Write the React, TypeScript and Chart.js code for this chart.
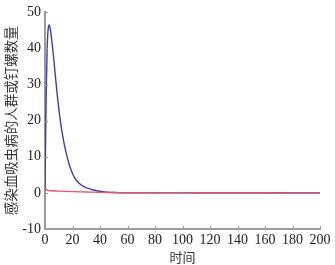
import React, { useEffect, useRef } from "react";
import { Chart, registerables } from "chart.js";
Chart.register(...registerables);

const blueT = [0, 0.5, 1, 1.5, 2, 2.5, 3, 3.5, 4, 5, 6, 7, 8, 9, 10, 11, 12, 13, 14, 15, 16, 18, 20, 22, 25, 28, 31, 35, 40, 45, 50, 55, 60, 80, 100, 120, 140, 160, 180, 200];
const blueV = [0.5, 17, 30, 39, 44, 46, 46.5, 46, 45, 42, 38.5, 34.5, 30.5, 26.8, 23.4, 20.5, 17.8, 15.5, 13.5, 11.7, 10.1, 7.4, 5.4, 3.9, 2.6, 1.8, 1.3, 0.8, 0.45, 0.22, 0.1, 0.04, 0, 0, 0, 0, 0, 0, 0, 0];
const redT = [0, 1, 2, 5, 10, 20, 30, 40, 50, 60, 80, 100, 120, 140, 160, 180, 200];
const redV = [1.2, 1.0, 0.7, 0.6, 0.5, 0.35, 0.25, 0.15, 0.1, 0.05, 0, 0, -0.02, -0.03, -0.04, -0.05, -0.05];
const xTicks = [0, 20, 40, 60, 80, 100, 120, 140, 160, 180, 200];
const yTicks = [-10, 0, 10, 20, 30, 40, 50];
const xTitle = "时间";
const yTitle = "感染血吸虫病的人群或钉螺数量";

const SERIF = "'Liberation Serif', 'Times New Roman', serif";
const CJK = "'Noto Sans CJK SC', sans-serif";

const inwardTicks = {
  id: "inwardTicks",
  afterDraw(chart: any) {
    const { ctx, chartArea, scales } = chart;
    ctx.save();
    ctx.strokeStyle = "#9a9a9a";
    ctx.lineWidth = 1;
    for (const v of yTicks) {
      const y = Math.round(scales.y.getPixelForValue(v)) + 0.5;
      ctx.beginPath();
      ctx.moveTo(chartArea.left, y);
      ctx.lineTo(chartArea.left + 3, y);
      ctx.stroke();
    }
    for (const v of xTicks) {
      const x = Math.round(scales.x.getPixelForValue(v)) + 0.5;
      ctx.beginPath();
      ctx.moveTo(x, chartArea.bottom);
      ctx.lineTo(x, chartArea.bottom - 3);
      ctx.stroke();
    }
    ctx.restore();
  },
};

export default function App() {
  const ref = useRef<HTMLCanvasElement>(null);
  useEffect(() => {
    const chart = new Chart(ref.current!, {
      type: "line",
      data: {
        datasets: [
          {
            data: blueT.map((t, i) => ({ x: t, y: blueV[i] })),
            borderColor: "#3d3fa6",
            borderWidth: 1.4,
            pointRadius: 0,
            cubicInterpolationMode: "monotone",
            order: 2,
          },
          {
            data: redT.map((t, i) => ({ x: t, y: redV[i] })),
            borderColor: "#e0566e",
            borderWidth: 1.4,
            pointRadius: 0,
            cubicInterpolationMode: "monotone",
            order: 1,
          },
        ],
      },
      options: {
        animation: false,
        responsive: false,
        layout: { padding: { top: 12, right: 15, left: 0, bottom: 0 } },
        plugins: { legend: { display: false }, tooltip: { enabled: false } },
        scales: {
          x: {
            type: "linear",
            min: 0,
            max: 200,
            afterBuildTicks: (s: any) => { s.ticks = xTicks.map((v) => ({ value: v })); },
            afterFit: (s: any) => { s.height = 36; },
            grid: { display: false, drawTicks: false },
            border: { color: "#9a9a9a", width: 2 },
            ticks: { color: "#222", padding: 3, maxRotation: 0, font: { family: SERIF, size: 14 } },
            title: { display: true, text: xTitle, color: "#333", padding: { top: 0, bottom: 0 }, font: { family: CJK, size: 13 } },
          },
          y: {
            min: -10,
            max: 50,
            afterBuildTicks: (s: any) => { s.ticks = yTicks.map((v) => ({ value: v })); },
            afterFit: (s: any) => { s.width = 45; },
            grid: { display: false, drawTicks: false },
            border: { color: "#9a9a9a", width: 2 },
            ticks: { color: "#222", padding: 4, font: { family: SERIF, size: 14 } },
            title: { display: true, text: yTitle, color: "#333", padding: { top: 3, bottom: 0 }, font: { family: CJK, size: 13.5 } },
          },
        },
      },
      plugins: [inwardTicks],
    } as any);
    return () => chart.destroy();
  }, []);
  return (
    <div style={{ position: "fixed", left: 0, top: 0, width: 335, height: 265, background: "#fff" }}>
      <canvas ref={ref} width={335} height={265} style={{ display: "block" }} />
    </div>
  );
}
